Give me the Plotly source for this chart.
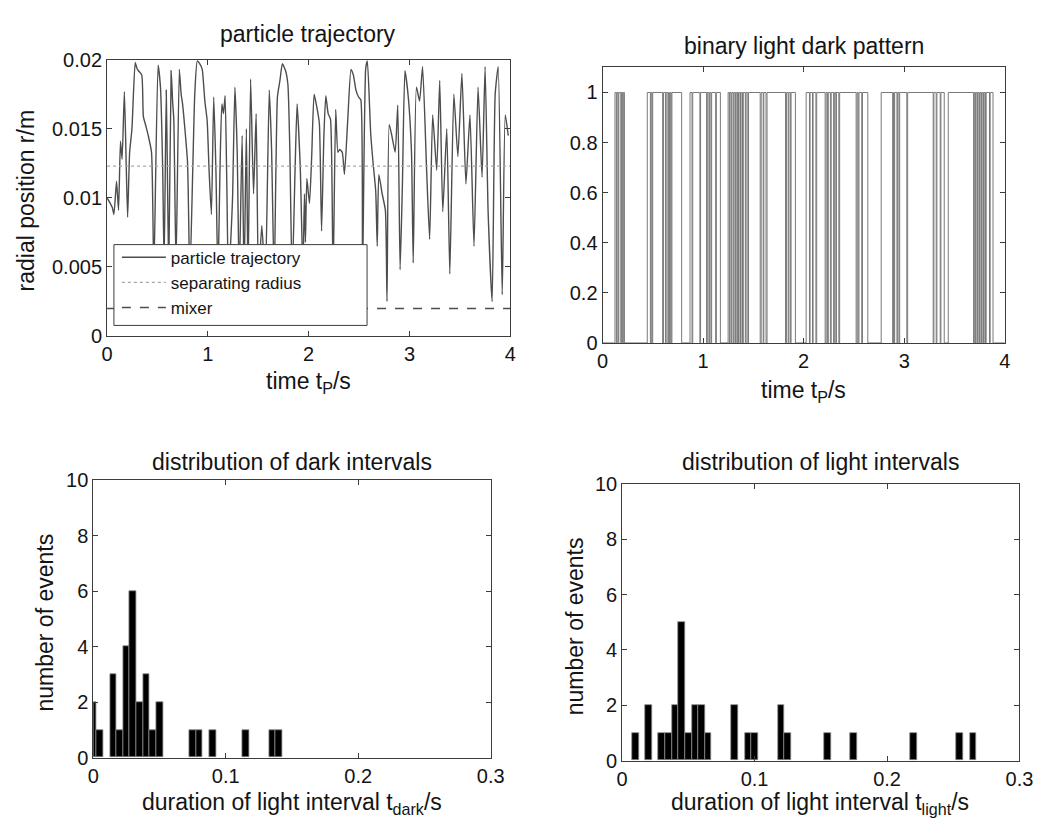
import plotly.graph_objects as go

W, H = 1059, 827

# ---------------- data ----------------
traj_t = [0.000, 0.025, 0.052, 0.068, 0.094, 0.114, 0.133, 0.149, 0.172, 0.191, 0.204, 0.224, 0.247,
          0.279, 0.295, 0.311, 0.344, 0.360, 0.385, 0.409, 0.441, 0.464, 0.506, 0.530, 0.552, 0.566,
          0.587, 0.600, 0.612, 0.636, 0.650, 0.662, 0.684, 0.717, 0.735, 0.749, 0.798, 0.821, 0.850,
          0.870, 0.895, 0.920, 0.944, 0.970, 0.993, 1.012, 1.035, 1.058, 1.080, 1.100, 1.120, 1.139,
          1.155, 1.171, 1.188, 1.204, 1.229, 1.245, 1.268, 1.291, 1.311, 1.340, 1.359, 1.382, 1.398,
          1.424, 1.453, 1.479, 1.502, 1.535, 1.570, 1.609, 1.632, 1.658, 1.690, 1.715, 1.739, 1.771,
          1.794, 1.813, 1.836, 1.865, 1.885, 1.917, 1.943, 1.958, 1.968, 1.982, 2.008, 2.030, 2.054,
          2.080, 2.106, 2.128, 2.151, 2.170, 2.193, 2.216, 2.242, 2.268, 2.290, 2.307, 2.333, 2.355,
          2.388, 2.420, 2.443, 2.469, 2.495, 2.517, 2.534, 2.566, 2.582, 2.615, 2.638, 2.665, 2.680,
          2.696, 2.729, 2.761, 2.777, 2.799, 2.825, 2.858, 2.884, 2.907, 2.930, 2.955, 2.988, 3.020,
          3.037, 3.069, 3.100, 3.130, 3.170, 3.200, 3.230, 3.270, 3.300, 3.330, 3.370, 3.400, 3.440,
          3.480, 3.520, 3.560, 3.600, 3.640, 3.680, 3.720, 3.750, 3.780, 3.820, 3.850, 3.880, 3.920,
          3.950, 3.980]
traj_r = [0.0100, 0.0097, 0.0093, 0.0088, 0.0112, 0.0091, 0.0141, 0.0128, 0.0177, 0.0121, 0.0086, 0.0133, 0.0150,
          0.0198, 0.0194, 0.0192, 0.0189, 0.0159, 0.0152, 0.0145, 0.0133, 0.0045, 0.0196, 0.0180, 0.0120, 0.0050,
          0.0178, 0.0110, 0.0045, 0.0192, 0.0170, 0.0157, 0.0050, 0.0193, 0.0175, 0.0168, 0.0126, 0.0040, 0.0120,
          0.0175, 0.0199, 0.0197, 0.0193, 0.0170, 0.0156, 0.0120, 0.0088, 0.0173, 0.0120, 0.0040, 0.0120, 0.0168,
          0.0161, 0.0174, 0.0110, 0.0040, 0.0072, 0.0100, 0.0180, 0.0133, 0.0040, 0.0145, 0.0040, 0.0150, 0.0040,
          0.0186, 0.0103, 0.0161, 0.0040, 0.0080, 0.0040, 0.0178, 0.0135, 0.0040, 0.0173, 0.0185, 0.0197, 0.0192,
          0.0182, 0.0135, 0.0040, 0.0120, 0.0168, 0.0121, 0.0045, 0.0103, 0.0068, 0.0114, 0.0096, 0.0130, 0.0175,
          0.0166, 0.0154, 0.0076, 0.0145, 0.0174, 0.0161, 0.0157, 0.0040, 0.0164, 0.0133, 0.0135, 0.0133, 0.0117,
          0.0157, 0.0193, 0.0189, 0.0178, 0.0173, 0.0171, 0.0040, 0.0194, 0.0199, 0.0147, 0.0126, 0.0105, 0.0065,
          0.0117, 0.0103, 0.0091, 0.0025, 0.0153, 0.0145, 0.0133, 0.0167, 0.0048, 0.0110, 0.0192, 0.0173, 0.0133,
          0.0053, 0.0180, 0.0170, 0.0195, 0.0120, 0.0070, 0.0160, 0.0120, 0.0185, 0.0090, 0.0150, 0.0045, 0.0175,
          0.0130, 0.0190, 0.0110, 0.0160, 0.0065, 0.0180, 0.0115, 0.0195, 0.0090, 0.0025, 0.0175, 0.0195, 0.0030,
          0.0160, 0.0145]
sep_radius = 0.0123
mixer_radius = 0.002

# binary pattern: intervals where the signal is 1 (light)
light_start = [0.124, 0.145, 0.162, 0.188, 0.207,
               0.445, 0.483, 0.499, 0.606, 0.633, 0.657, 0.674, 0.690,
               0.870, 0.897, 0.975, 1.042, 1.065, 1.085, 1.132,
               1.249, 1.268, 1.286, 1.306, 1.323, 1.341, 1.358, 1.378, 1.400, 1.428, 1.452,
               1.578, 1.604, 1.636, 1.829, 1.853, 1.875,
               2.025, 2.064, 2.094, 2.130, 2.224, 2.245, 2.274, 2.305, 2.326, 2.358,
               2.532, 2.550, 2.585,
               2.771, 2.893, 2.905, 2.935, 2.955, 3.034, 3.295, 3.325, 3.365,
               3.438, 3.697, 3.715, 3.735, 3.755, 3.775, 3.795, 3.815, 3.855]
light_end = [0.138, 0.156, 0.182, 0.200, 0.218,
             0.476, 0.492, 0.598, 0.626, 0.650, 0.667, 0.683, 0.787,
             0.890, 0.968, 1.035, 1.058, 1.078, 1.125, 1.172,
             1.262, 1.280, 1.300, 1.318, 1.336, 1.352, 1.372, 1.392, 1.420, 1.445, 1.568,
             1.598, 1.626, 1.820, 1.846, 1.868, 1.918,
             2.058, 2.088, 2.122, 2.214, 2.238, 2.266, 2.298, 2.320, 2.350, 2.522,
             2.542, 2.578, 2.638,
             2.885, 2.899, 2.928, 2.948, 3.026, 3.288, 3.318, 3.358, 3.398,
             3.690, 3.708, 3.728, 3.748, 3.768, 3.788, 3.808, 3.848, 3.883]

dark_centers = [0.000, 0.005, 0.015, 0.020, 0.025, 0.030, 0.035, 0.040, 0.045, 0.050,
                0.075, 0.080, 0.090, 0.115, 0.135, 0.140]
dark_counts = [2, 1, 3, 1, 4, 6, 2, 3, 1, 2, 1, 1, 1, 1, 1, 1]

light_centers = [0.010, 0.020, 0.030, 0.035, 0.040, 0.045, 0.050, 0.055, 0.060, 0.065,
                 0.085, 0.095, 0.100, 0.120, 0.125, 0.155, 0.175, 0.220, 0.255, 0.265]
light_counts = [1, 2, 1, 1, 2, 5, 1, 2, 2, 1, 2, 1, 1, 2, 1, 1, 1, 1, 1, 1]
bin_width = 0.005

# ---------------- helpers ----------------
FONT = "Liberation Sans, Arial, Helvetica, sans-serif"
TXT = "#141414"
FRAME = "#3c3c3c"


def px_x(p):
    return p / W


def px_y(p):
    return 1 - p / H


fig = go.Figure()

# top-left: trajectory
fig.add_trace(go.Scatter(x=traj_t, y=traj_r, mode="lines", name="particle trajectory",
                         line=dict(color="#4d4d4d", width=1.4, shape="spline", smoothing=0.5),
                         xaxis="x", yaxis="y", legendrank=1, cliponaxis=True))
fig.add_trace(go.Scatter(x=[0, 4], y=[sep_radius, sep_radius], mode="lines", name="separating radius",
                         line=dict(color="#a8a8a8", width=1.2, dash="dot"), xaxis="x", yaxis="y",
                         legendrank=2))
fig.add_trace(go.Scatter(x=[0, 4], y=[mixer_radius, mixer_radius], mode="lines", name="mixer",
                         line=dict(color="#4d4d4d", width=1.4, dash="dash"), xaxis="x", yaxis="y",
                         legendrank=3))

# top-right: binary pattern (step line built from the light intervals)
bx, by = [0.0], [0]
for a, b in zip(light_start, light_end):
    bx += [a, a, b, b]
    by += [0, 1, 1, 0]
bx.append(4.0)
by.append(0)
fig.add_trace(go.Scatter(x=bx, y=by, mode="lines", line=dict(color="#7a7a7a", width=1),
                         xaxis="x2", yaxis="y2", showlegend=False))

# bottom histograms
fig.add_trace(go.Bar(x=dark_centers, y=dark_counts, width=bin_width,
                     marker=dict(color="black", line=dict(color="#8a8a8a", width=0.8)),
                     xaxis="x3", yaxis="y3", showlegend=False))
fig.add_trace(go.Bar(x=light_centers, y=light_counts, width=bin_width,
                     marker=dict(color="black", line=dict(color="#8a8a8a", width=0.8)),
                     xaxis="x4", yaxis="y4", showlegend=False))

boxes = {
    "1": (103, 514, 50, 334),
    "2": (608, 1018, 58, 341),
    "3": (89, 494, 482, 767),
    "4": (628, 1033, 486, 770),
}


def ax_common():
    return dict(showline=True, linecolor=FRAME, linewidth=1, mirror="allticks",
                ticks="inside", ticklen=5, tickcolor=FRAME, tickwidth=1,
                showgrid=False, zeroline=False, fixedrange=True,
                tickfont=dict(family=FONT, size=20, color=TXT))


layout = dict(width=W, height=H, margin=dict(l=0, r=0, t=0, b=0),
              paper_bgcolor="white", plot_bgcolor="white", bargap=0,
              font=dict(family=FONT, color=TXT))

for k, (x0, x1, y0, y1) in boxes.items():
    xa = ax_common()
    ya = ax_common()
    xa["domain"] = [px_x(x0), px_x(x1)]
    ya["domain"] = [px_y(y1), px_y(y0)]
    suffix = "" if k == "1" else k
    xa["anchor"] = "y" + suffix
    ya["anchor"] = "x" + suffix
    layout["xaxis" + suffix] = xa
    layout["yaxis" + suffix] = ya

layout["xaxis"].update(range=[0, 4], tickvals=[0, 1, 2, 3, 4])
layout["yaxis"].update(range=[0, 0.02], tickvals=[0, 0.005, 0.01, 0.015, 0.02],
                       ticktext=["0", "0.005", "0.01", "0.015", "0.02"])
layout["xaxis2"].update(range=[0, 4], tickvals=[0, 1, 2, 3, 4])
layout["yaxis2"].update(range=[0, 1.1], tickvals=[0, 0.2, 0.4, 0.6, 0.8, 1],
                        ticktext=["0", "0.2", "0.4", "0.6", "0.8", "1"])
for s in ("3", "4"):
    layout["xaxis" + s].update(range=[0, 0.3], tickvals=[0, 0.1, 0.2, 0.3],
                               ticktext=["0", "0.1", "0.2", "0.3"])
    layout["yaxis" + s].update(range=[0, 10], tickvals=[0, 2, 4, 6, 8, 10])

layout["legend"] = dict(x=px_x(113), y=px_y(235), xanchor="left", yanchor="top",
                        bgcolor="rgba(0,0,0,0)", borderwidth=0,
                        font=dict(family=FONT, size=17, color=TXT),
                        tracegroupgap=0, itemwidth=44)

# legend frame (opaque, hides the curve behind it)
layout["shapes"] = [dict(type="rect", xref="paper", yref="paper",
                         x0=px_x(110), x1=px_x(368), y0=px_y(323), y1=px_y(240),
                         fillcolor="white", line=dict(color=FRAME, width=1), layer="above")]


def ann(text, x, y, size=23, angle=0):
    return dict(text=text, x=px_x(x), y=px_y(y), xref="paper", yref="paper",
                showarrow=False, xanchor="center", yanchor="middle", textangle=angle,
                font=dict(family=FONT, size=size, color=TXT))


layout["annotations"] = [
    ann("particle trajectory", 308, 24),
    ann("radial position r/m", 20, 195, angle=-90),
    ann("time t<sub>P</sub>/s", 308, 382),
    ann("binary light dark pattern", 813, 36),
    ann("time t<sub>P</sub>/s", 813, 391),
    ann("distribution of dark intervals", 291, 463),
    ann("number of events", 40, 628, angle=-90),
    ann("duration of light interval t<sub>dark</sub>/s", 291, 814),
    ann("distribution of light intervals", 830, 463),
    ann("number of events", 580, 632, angle=-90),
    ann("duration of light interval t<sub>light</sub>/s", 830, 814),
]

fig.update_layout(**layout)
fig.write_html("out.html")
